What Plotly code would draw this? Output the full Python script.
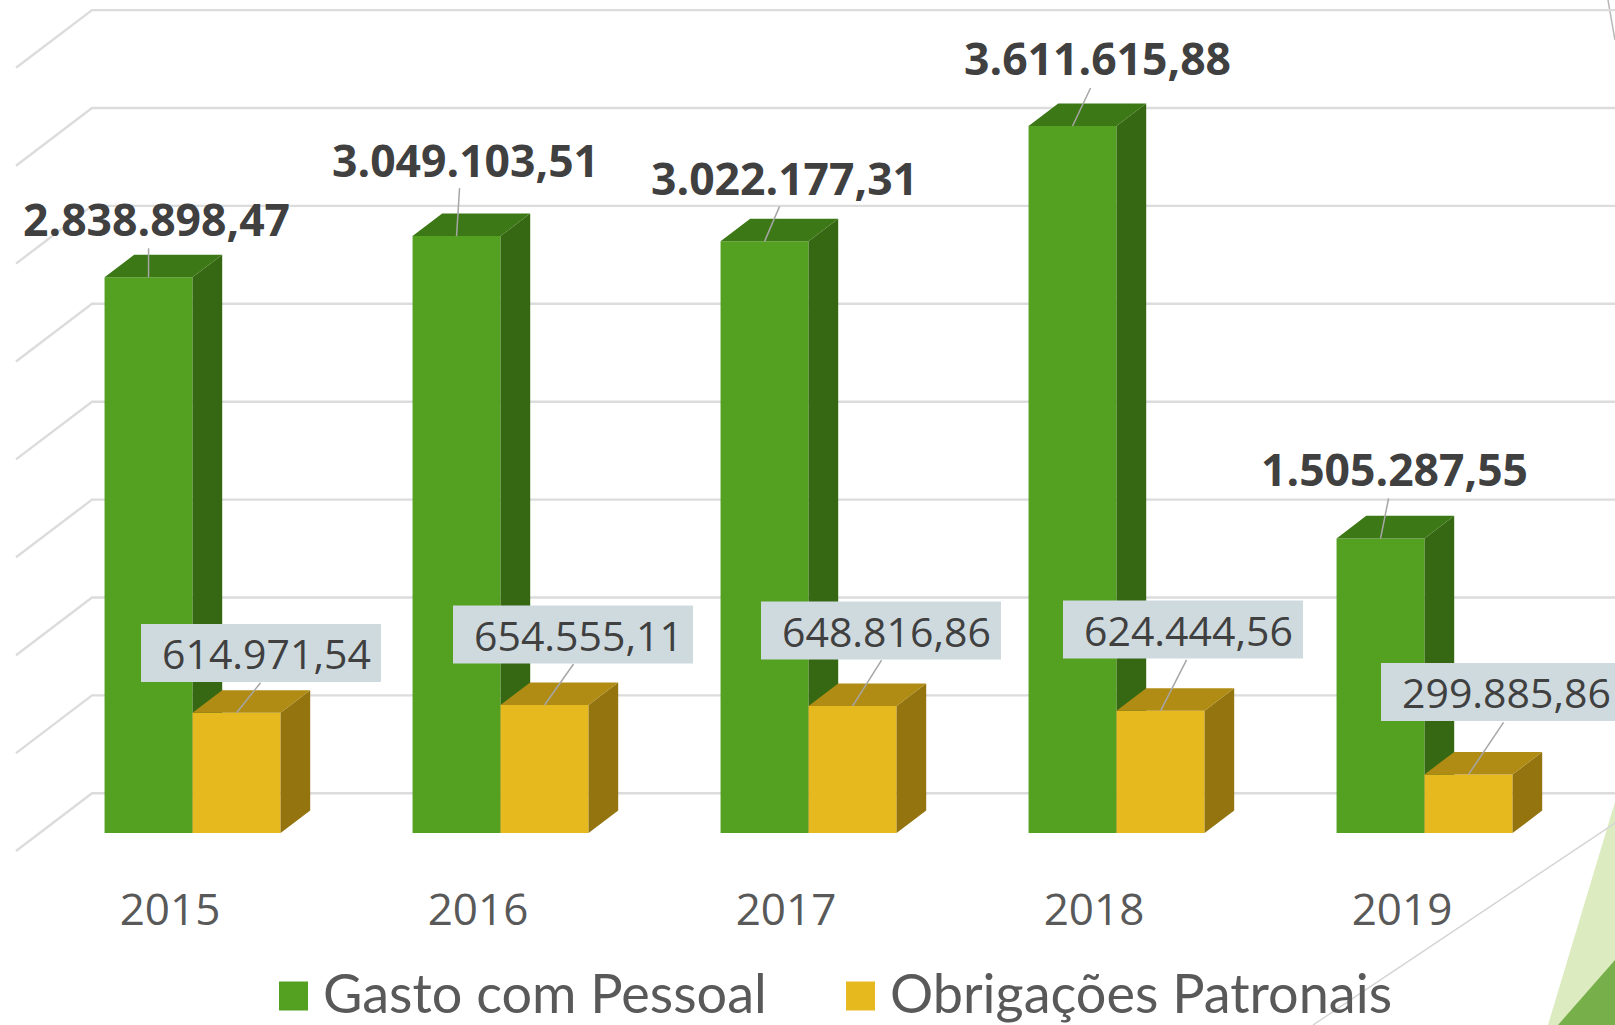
import plotly.graph_objects as go

# ---------- data ----------
years = ["2015", "2016", "2017", "2018", "2019"]
gasto_pessoal = [2838898.47, 3049103.51, 3022177.31, 3611615.88, 1505287.55]
obrigacoes_patronais = [614971.54, 654555.11, 648816.86, 624444.56, 299885.86]
gasto_labels = ["2.838.898,47", "3.049.103,51", "3.022.177,31", "3.611.615,88", "1.505.287,55"]
obrig_labels = ["614.971,54", "654.555,11", "648.816,86", "624.444,56", "299.885,86"]
grid_values = [0, 500000, 1000000, 1500000, 2000000, 2500000, 3000000, 3500000, 4000000]
series_names = ["Gasto com Pessoal", "Obrigações Patronais"]

# ---------- geometry / style ----------
W_PX, H_PX = 1615, 1025
SLOT_PX = 308.0            # px per category
SLOT0_PX = 170.0           # px of first category on the front edge
ZERO_PX = 793.3            # px of value 0 on the back wall
PX_PER_UNIT = 97.9 / 500000
DEPTH_X_PX, DEPTH_Y_PX = 76.0, 57.7   # oblique projection
F_D, B_D = 0.31, 0.70      # front/back depth of the bars
BAR_PX = 88.0
BAR_SHIFT = -1.0 / SLOT_PX

xr = [(0 - SLOT0_PX) / SLOT_PX, (W_PX - SLOT0_PX) / SLOT_PX]
yr = [(ZERO_PX - H_PX) / PX_PER_UNIT, ZERO_PX / PX_PER_UNIT]
DX = DEPTH_X_PX / SLOT_PX
DY = DEPTH_Y_PX / PX_PER_UNIT
BW = BAR_PX / SLOT_PX


def proj(x, v, d):
    """Point x (slots), value v at depth d (0 front, 1 back) to data coordinates."""
    return x + d * DX, v - (1 - d) * DY


def px_x(x):
    return x / W_PX


def px_y(y):
    return 1 - y / H_PX


GREEN = dict(front="#54A021", side="#366814", top="#3D7816")
YELLOW = dict(front="#E6B91E", side="#93740F", top="#B08C15")
GRID = "#DCDCDC"
LEADER = "#A6A6A6"
FONT = "Open Sans"

fig = go.Figure()

# grid: back wall + slanted side wall (base axes, under the bar overlays)
for v in grid_values:
    x0, y0 = proj(0 - 0.5, v, 0)
    x1, y1 = proj(0 - 0.5, v, 1)
    x2, y2 = proj(len(years) - 0.5, v, 1)
    fig.add_trace(go.Scatter(x=[x0, x1, x2], y=[y0, y1, y2], mode="lines",
                             line=dict(color=GRID, width=2.4), hoverinfo="skip", showlegend=False))


def add_series(values, left_off, colours, name, xa, ya):
    xs = [i + F_D * DX + left_off for i in range(len(values))]
    base = -(1 - F_D) * DY
    fig.add_trace(go.Bar(x=[x + BW / 2 for x in xs], y=values, base=[base] * len(values), width=BW,
                         marker=dict(color=colours["front"], line=dict(width=0)), name=name,
                         showlegend=False, xaxis=xa, yaxis=ya))
    side_x, side_y, top_x, top_y = [], [], [], []
    for i, v in enumerate(values):
        xl = i + left_off
        xr_ = xl + BW
        for p in [(xr_, 0, F_D), (xr_, 0, B_D), (xr_, v, B_D), (xr_, v, F_D), (xr_, 0, F_D)]:
            a, b = proj(*p)
            side_x.append(a)
            side_y.append(b)
        side_x.append(None)
        side_y.append(None)
        for p in [(xl, v, F_D), (xr_, v, F_D), (xr_, v, B_D), (xl, v, B_D), (xl, v, F_D)]:
            a, b = proj(*p)
            top_x.append(a)
            top_y.append(b)
        top_x.append(None)
        top_y.append(None)
    for px, py, c in [(side_x, side_y, colours["side"]), (top_x, top_y, colours["top"])]:
        fig.add_trace(go.Scatter(x=px, y=py, mode="lines", fill="toself", fillcolor=c,
                                 line=dict(width=0, color=c), hoverinfo="skip", showlegend=False,
                                 xaxis=xa, yaxis=ya))


def add_leaders(values, left_off, offsets, xa, ya):
    lx, ly = [], []
    for i, (v, (ox, oy)) in enumerate(zip(values, offsets)):
        a, b = proj(i + left_off + BW / 2, v, F_D)
        lx += [a, a + ox / SLOT_PX, None]
        ly += [b, b - oy / PX_PER_UNIT, None]
    fig.add_trace(go.Scatter(x=lx, y=ly, mode="lines", line=dict(color=LEADER, width=1.5),
                             hoverinfo="skip", showlegend=False, xaxis=xa, yaxis=ya))


add_series(gasto_pessoal, -BW + BAR_SHIFT, GREEN, series_names[0], "x2", "y2")
add_leaders(gasto_pessoal, -BW + BAR_SHIFT, [(0, -29), (3, -48), (15, -35), (18, -38), (8, -40)], "x2", "y2")
add_series(obrigacoes_patronais, BAR_SHIFT, YELLOW, series_names[1], "x3", "y3")
add_leaders(obrigacoes_patronais, BAR_SHIFT, [(24, -30), (29, -41), (29, -46), (26, -51), (35, -52)], "x3", "y3")

shapes = []
annotations = []

# decorative slide shapes
shapes.append(dict(type="path", path=f"M 1,{px_y(802)} L {px_x(1548)},0 L 1,0 Z", xref="paper", yref="paper",
                   fillcolor="#DDEBC0", line=dict(width=0), layer="below"))
shapes.append(dict(type="path", path=f"M 1,{px_y(960)} L {px_x(1558)},0 L 1,0 Z", xref="paper", yref="paper",
                   fillcolor="#77B04A", line=dict(width=0), layer="below"))
shapes.append(dict(type="line", x0=1, y0=px_y(823), x1=px_x(1313), y1=0, xref="paper", yref="paper",
                   line=dict(color="#D4D4D4", width=1.5), layer="below"))
shapes.append(dict(type="line", x0=px_x(1608), y0=1, x1=1, y1=px_y(40), xref="paper", yref="paper",
                   line=dict(color="#B8B8B8", width=1.5), layer="below"))

# boxes for the yellow labels
boxes = [(141, 624), (453, 605.5), (761, 601.5), (1063, 600.5), (1381, 663)]
for (bx, by), txt in zip(boxes, obrig_labels):
    shapes.append(dict(type="rect", x0=px_x(bx), x1=px_x(bx + 240), y0=px_y(by), y1=px_y(by + 58),
                       xref="paper", yref="paper", fillcolor="#CFDADF", line=dict(width=0), layer="above"))
    annotations.append(dict(x=px_x(bx + 125.5), y=px_y(by + 29), xref="paper", yref="paper", text=txt,
                            showarrow=False, font=dict(family=FONT, size=41, color="#404040"),
                            xanchor="center", yanchor="middle"))

# bold labels for the green series
centres = [(156.6, 219), (465, 159), (784, 178), (1097, 57.7), (1394.6, 469)]
for (cx, cy), txt in zip(centres, gasto_labels):
    annotations.append(dict(x=px_x(cx), y=px_y(cy), xref="paper", yref="paper", text=f"<b>{txt}</b>",
                            showarrow=False, font=dict(family=FONT, size=44.5, color="#404040"),
                            xanchor="center", yanchor="middle"))

# legend
for (sx, tx), name, col in zip([(279, 321), (846, 888)], series_names, [GREEN["front"], YELLOW["front"]]):
    shapes.append(dict(type="rect", x0=px_x(sx), x1=px_x(sx + 29), y0=px_y(981.5), y1=px_y(1010.5),
                       xref="paper", yref="paper", fillcolor=col, line=dict(width=0), layer="above"))
    annotations.append(dict(x=px_x(tx), y=px_y(992), xref="paper", yref="paper", text=name, showarrow=False,
                            font=dict(family="Lato", size=54, color="#595959"),
                            xanchor="left", yanchor="middle"))

axis_common = dict(zeroline=False, showgrid=False, showline=False, fixedrange=True)
fig.update_layout(
    width=W_PX, height=H_PX, margin=dict(l=0, r=0, t=0, b=0, pad=0), autosize=False,
    paper_bgcolor="white", plot_bgcolor="rgba(0,0,0,0)", showlegend=False, barmode="overlay",
    font=dict(family=FONT), shapes=shapes, annotations=annotations,
    xaxis=dict(range=xr, tickmode="array", tickvals=list(range(len(years))), ticktext=years,
               tickfont=dict(family=FONT, size=44, color="#595959"), ticks="", anchor="free",
               position=px_y(880), **axis_common),
    yaxis=dict(range=yr, showticklabels=False, ticks="", **axis_common),
    xaxis2=dict(range=xr, overlaying="x", visible=False, **axis_common),
    yaxis2=dict(range=yr, overlaying="y", visible=False, **axis_common),
    xaxis3=dict(range=xr, overlaying="x", visible=False, **axis_common),
    yaxis3=dict(range=yr, overlaying="y", visible=False, **axis_common),
)

fig.write_html("out.html", config=dict(displayModeBar=False),
               post_script="document.body.style.margin='0';document.body.style.overflow='hidden';")
